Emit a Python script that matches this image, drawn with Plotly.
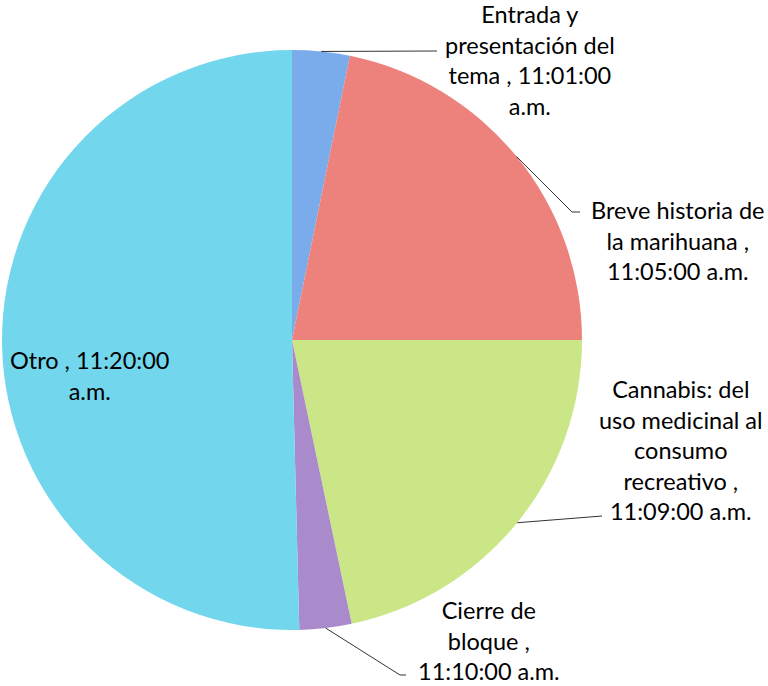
import math
import plotly.graph_objects as go

# ---- data ----
categories = ["Entrada y presentación del tema", "Breve historia de la marihuana",
              "Cannabis: del uso medicinal al consumo recreativo", "Cierre de bloque", "Otro"]
values = [3.2, 21.8, 21.7, 2.9, 50.4]
time_labels = ["11:01:00 a.m.", "11:05:00 a.m.", "11:09:00 a.m.", "11:10:00 a.m.", "11:20:00 a.m."]
label_texts = [
    "Entrada y<br>presentación del<br>tema , 11:01:00<br>a.m.",
    "Breve historia de<br>la marihuana ,<br>11:05:00 a.m.",
    "Cannabis: del<br>uso medicinal al<br>consumo<br>recreativo ,<br>11:09:00 a.m.",
    "Cierre de<br>bloque ,<br>11:10:00 a.m.",
    "Otro , 11:20:00<br>a.m.",
]
colors = ["#7aabea", "#ec827b", "#cbe687", "#a98bcb", "#72d6ec"]

W, H = 768, 686
CX, CY, R = 292, 340, 290  # pixel geometry of pie

# label layout (pixels): text centre, leader-line end (None = no line)
label_pos = [(530, 60), (677, 240), (681, 450), (489, 640), (89, 376)]
line_end = [(437, 51), (572, 212), (602, 516), (400, 675), None]
line_tail = [None, (580, 212), None, (406, 675), None]

FONT = "Lato"
FSIZE = 23.5

fig = go.Figure(go.Pie(
    labels=categories,
    values=values,
    sort=False,
    direction="clockwise",
    rotation=0,
    marker=dict(colors=colors, line=dict(width=0)),
    textinfo="none",
    hoverinfo="skip",
    showlegend=False,
    domain=dict(x=[(CX - R) / W, (CX + R) / W], y=[1 - (CY + R) / H, 1 - (CY - R) / H]),
))

def px2paper(x, y):
    return x / W, 1 - y / H

total = sum(values)
cum = 0
shapes = []
annotations = []
for i, v in enumerate(values):
    mid = (cum + v / 2) / total * 2 * math.pi
    cum += v
    sx = CX + R * math.sin(mid)
    sy = CY - R * math.cos(mid)
    if line_end[i] is not None:
        x0, y0 = px2paper(sx, sy)
        x1, y1 = px2paper(*line_end[i])
        shapes.append(dict(type="line", xref="paper", yref="paper", x0=x0, y0=y0, x1=x1, y1=y1,
                           line=dict(color="#333333", width=1)))
        if line_tail[i] is not None:
            x2, y2 = px2paper(*line_tail[i])
            shapes.append(dict(type="line", xref="paper", yref="paper", x0=x1, y0=y1, x1=x2, y1=y2,
                               line=dict(color="#333333", width=1)))
    ax, ay = px2paper(*label_pos[i])
    annotations.append(dict(x=ax, y=ay, xref="paper", yref="paper", text=label_texts[i],
                            showarrow=False, xanchor="center", yanchor="middle", align="center",
                            font=dict(family=FONT, size=FSIZE, color="#000000")))

fig.update_layout(
    width=W, height=H,
    margin=dict(l=0, r=0, t=0, b=0),
    paper_bgcolor="white", plot_bgcolor="white",
    shapes=shapes, annotations=annotations,
)

fig.write_html("out.html", config={"displayModeBar": False},
               post_script="document.body.style.margin='0';document.body.style.overflow='hidden';")
